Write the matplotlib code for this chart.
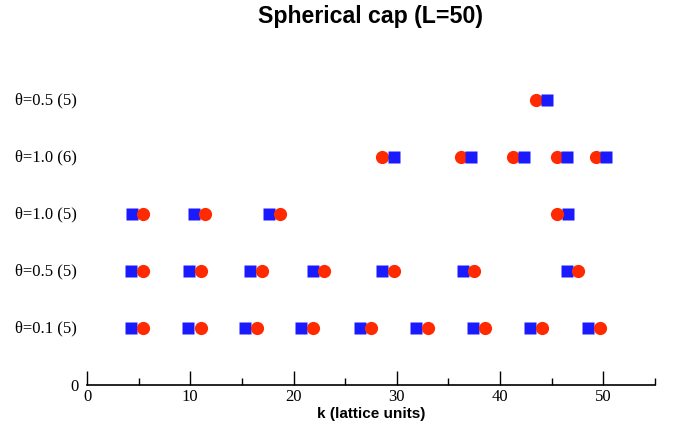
import matplotlib.pyplot as plt
from matplotlib.ticker import MultipleLocator
import matplotlib.transforms as mtransforms

# row labels (bottom to top) and their y positions
row_labels = ['θ=0.1 (5)', 'θ=0.5 (5)', 'θ=1.0 (5)', 'θ=1.0 (6)', 'θ=0.5 (5)']
row_y = [1, 2, 3, 4, 5]

# k values, one list per row
squares = [
    [4.3, 9.8, 15.3, 20.7, 26.4, 31.9, 37.4, 42.9, 48.5],
    [4.3, 9.9, 15.8, 21.9, 28.6, 36.4, 46.5],
    [4.4, 10.4, 17.6, 46.6],
    [29.7, 37.2, 42.3, 46.5, 50.3],
    [44.6],
]
circles = [
    [5.4, 11.0, 16.5, 21.9, 27.5, 33.0, 38.6, 44.1, 49.7],
    [5.4, 11.0, 16.9, 23.0, 29.7, 37.5, 47.6],
    [5.4, 11.4, 18.7, 45.5],
    [28.6, 36.2, 41.3, 45.5, 49.3],
    [43.5],
]
# rows where the circle sits on top of the square
circle_on_top = [True, True, True, False, False]

blue = '#1a1aff'
red = '#ff2a00'

fig = plt.figure(figsize=(6.75, 4.28), dpi=100)
ax = fig.add_axes([0.129, 0.1005, 0.841, 0.799])

for i, y in enumerate(row_y):
    zs, zc = (2, 3) if circle_on_top[i] else (3, 2)
    ax.plot(squares[i], [y] * len(squares[i]), 's', color=blue, ms=8,
            mec='none', zorder=zs)
    ax.plot(circles[i], [y] * len(circles[i]), 'o', color=red, ms=9.5,
            mec='none', zorder=zc)

ax.set_xlim(0, 55)
ax.set_ylim(0, 6)

for s in ['left', 'top', 'right']:
    ax.spines[s].set_visible(False)
ax.spines['bottom'].set_linewidth(1.2)

ax.xaxis.set_major_locator(MultipleLocator(10))
ax.xaxis.set_minor_locator(MultipleLocator(5))
ax.tick_params(axis='x', which='major', direction='in', length=10, width=1,
               labelsize=12, pad=3)
ax.tick_params(axis='x', which='minor', direction='in', length=5, width=1)
ax.set_yticks([0])
ax.set_yticklabels(['0'])
ax.tick_params(axis='y', length=0, labelsize=12, pad=6)
for lab in ax.get_xticklabels() + ax.get_yticklabels():
    lab.set_fontfamily('Liberation Serif')

trans = mtransforms.blended_transform_factory(fig.transFigure, ax.transData)
for y, lab in zip(row_y, row_labels):
    ax.text(15 / 675, y, lab, transform=trans, ha='left', va='center',
            fontsize=12, family='Liberation Serif')

ax.set_xlabel('k (lattice units)', fontsize=11, fontweight='bold',
              family='Liberation Sans', labelpad=1)
fig.text(0.549, 0.962, 'Spherical cap (L=50)', ha='center', va='center',
         fontsize=16.7, fontweight='bold', family='Liberation Sans')

fig.savefig('out.png', dpi=100)
